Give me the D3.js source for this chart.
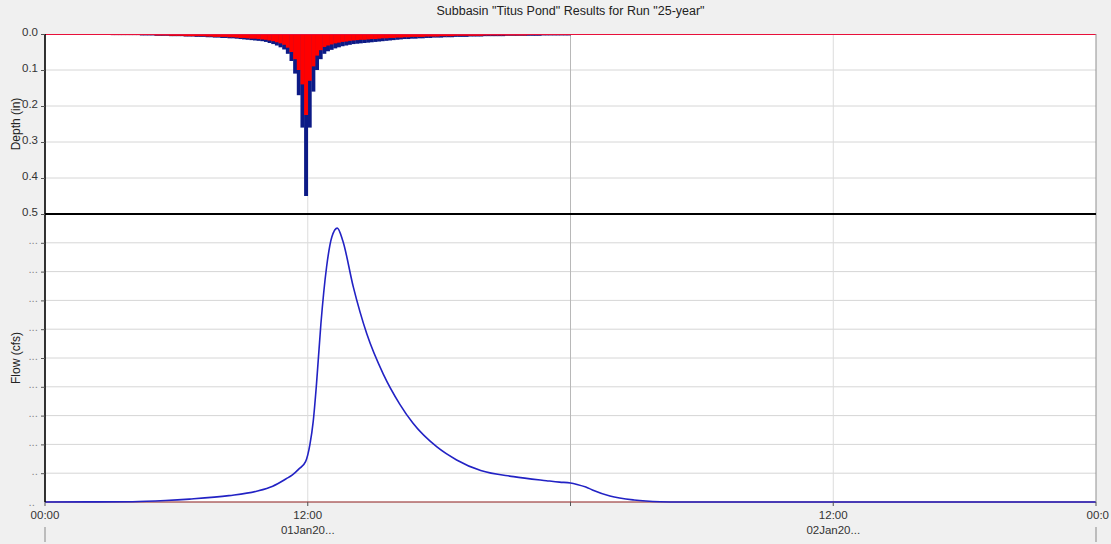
<!DOCTYPE html>
<html>
<head>
<meta charset="utf-8">
<script src="https://cdn.jsdelivr.net/npm/d3@7/dist/d3.min.js"></script>
<style>
  body { margin: 0; background: #f0f0f0; }
  text { font-family: "Liberation Sans", Arial, sans-serif; }
</style>
</head>
<body>
<div class="canvas"></div>
<script>
// ---- data ----
const title = 'Subbasin "Titus Pond" Results for Run "25-year"';

// precipitation per 10 minute step (in), 00:00 - 24:00 on 01Jan
const precipDepth = [
  0.002,0.002,0.002,0.002,0.002,0.002,0.002,0.002,0.002,0.002,0.002,0.002,
  0.002,0.002,0.002,0.002,0.002,0.002,0.003,0.003,0.003,0.003,0.003,0.003,
  0.003,0.003,0.004,0.004,0.004,0.004,0.005,0.005,0.005,0.005,0.006,0.006,
  0.006,0.006,0.007,0.007,0.007,0.008,0.008,0.008,0.009,0.009,0.010,0.010,
  0.011,0.011,0.012,0.012,0.013,0.014,0.015,0.016,0.017,0.018,0.019,0.020,
  0.022,0.025,0.028,0.032,0.037,0.043,0.055,0.075,0.110,0.170,0.260,0.450,
  0.260,0.160,0.100,0.070,0.055,0.048,0.044,0.040,0.037,0.034,0.032,0.030,
  0.028,0.027,0.026,0.025,0.024,0.023,0.022,0.021,0.020,0.019,0.018,0.017,
  0.016,0.015,0.014,0.014,0.013,0.013,0.012,0.012,0.011,0.011,0.010,0.010,
  0.010,0.009,0.009,0.009,0.008,0.008,0.008,0.008,0.007,0.007,0.007,0.007,
  0.006,0.006,0.006,0.006,0.006,0.006,0.005,0.005,0.005,0.005,0.005,0.005,
  0.005,0.005,0.005,0.005,0.004,0.004,0.004,0.004,0.004,0.004,0.004,0.004
];
// loss per 10 minute step (in)
const lossDepth = [
  0.002,0.002,0.002,0.002,0.002,0.002,0.002,0.002,0.002,0.002,0.002,0.002,
  0.002,0.002,0.002,0.002,0.002,0.002,0.003,0.003,0.003,0.003,0.003,0.003,
  0.003,0.003,0.003,0.003,0.003,0.003,0.004,0.004,0.004,0.004,0.005,0.005,
  0.005,0.005,0.006,0.006,0.006,0.006,0.006,0.006,0.007,0.007,0.008,0.008,
  0.008,0.008,0.009,0.009,0.010,0.011,0.011,0.012,0.013,0.013,0.014,0.015,
  0.016,0.018,0.020,0.023,0.026,0.030,0.038,0.050,0.070,0.100,0.140,0.225,
  0.130,0.090,0.060,0.045,0.036,0.032,0.029,0.026,0.024,0.022,0.021,0.019,
  0.018,0.017,0.016,0.016,0.015,0.014,0.014,0.013,0.012,0.012,0.011,0.011,
  0.010,0.010,0.009,0.009,0.008,0.008,0.008,0.008,0.007,0.007,0.007,0.007,
  0.006,0.006,0.006,0.006,0.005,0.005,0.005,0.005,0.005,0.005,0.005,0.005,
  0.004,0.004,0.004,0.004,0.004,0.004,0.004,0.004,0.004,0.004,0.004,0.004,
  0.003,0.003,0.003,0.003,0.003,0.003,0.003,0.003,0.003,0.003,0.003,0.003
];
const stepHours = 10 / 60;

// outflow hydrograph (hours from start, flow)
const flowHours = [0, 2, 4, 5.5, 6.6, 8.4, 9.7, 10.4, 11.0, 11.3, 11.6, 11.9, 12.1, 12.25, 12.4, 12.6,
  12.86, 13.1, 13.35, 13.6, 14.08, 14.7, 15.45, 16.2, 16.8, 17.9, 18.8, 19.9, 21.4, 22.9, 23.5,
  24.0, 24.3, 24.7, 25.0, 25.8, 26.9, 28.1, 29, 48];
const flowValues = [0, 0.003, 0.01, 0.05, 0.1, 0.22, 0.38, 0.55, 0.8, 0.94, 1.15, 1.4, 2.0, 2.8, 4.1, 6.18,
  8.16, 9.2, 9.51, 9.07, 7.47, 5.83, 4.44, 3.4, 2.74, 1.91, 1.46, 1.09, 0.88, 0.74, 0.69,
  0.66, 0.61, 0.52, 0.42, 0.21, 0.07, 0.01, 0, 0];

const depthTicks = [0, 0.1, 0.2, 0.3, 0.4, 0.5];
const flowTicks = [0, 1, 2, 3, 4, 5, 6, 7, 8, 9];
const flowTickLabels = ['..', '..', '...', '...', '...', '...', '...', '...', '...', '...'];
const timeTicks = [0, 12, 24, 36, 48];
const timeTickLabels = ['00:00', '12:00', '', '12:00', '00:0'];
const dateLabels = [{ h: 12, text: '01Jan20...' }, { h: 36, text: '02Jan20...' }];
const dayMarks = [0, 48];

// ---- layout ----
const W = 1111, H = 544;
const plot = { left: 45, right: 1096, top: 34, mid: 214, bottom: 502 };
const fontSize = 11.5;

const svg = d3.select('.canvas')
  .append('svg')
  .attr('width', W)
  .attr('height', H);

svg.append('rect').attr('width', W).attr('height', H).attr('fill', '#f0f0f0');
svg.append('rect')
  .attr('x', plot.left).attr('y', plot.top)
  .attr('width', plot.right - plot.left).attr('height', plot.bottom - plot.top)
  .attr('fill', '#fff');

// scales
const x = d3.scaleLinear().domain([0, 48]).range([plot.left, plot.right]);
const yDepth = d3.scaleLinear().domain([0, 0.5]).range([plot.top, plot.mid]);
const yFlow = d3.scaleLinear().domain([0, 10]).range([plot.bottom, plot.mid]);

// grid lines
const grid = svg.append('g');
grid.selectAll('.hd').data(depthTicks.slice(1, -1)).enter().append('line')
  .attr('x1', plot.left).attr('x2', plot.right)
  .attr('y1', d => yDepth(d)).attr('y2', d => yDepth(d))
  .attr('stroke', '#d6d6d6');
grid.selectAll('.hf').data(flowTicks.slice(1)).enter().append('line')
  .attr('x1', plot.left).attr('x2', plot.right)
  .attr('y1', d => yFlow(d)).attr('y2', d => yFlow(d))
  .attr('stroke', '#d6d6d6');
grid.selectAll('.v').data([12, 24, 36]).enter().append('line')
  .attr('x1', d => x(d)).attr('x2', d => x(d))
  .attr('y1', plot.top).attr('y2', plot.bottom + 4)
  .attr('stroke', d => d === 24 ? '#b8b8b8' : '#dcdcdc');

// precip bars hanging from the top, loss drawn over them
const barW = x(stepHours) - x(0);
const bars = svg.append('g');
bars.selectAll('.p').data(precipDepth).enter().append('rect')
  .attr('x', (d, i) => x(i * stepHours))
  .attr('y', plot.top)
  .attr('width', barW + 0.3)
  .attr('height', d => yDepth(d) - plot.top)
  .attr('fill', '#0c1a86');
bars.selectAll('.l').data(lossDepth).enter().append('rect')
  .attr('x', (d, i) => x(i * stepHours))
  .attr('y', plot.top)
  .attr('width', barW + 0.3)
  .attr('height', d => yDepth(d) - plot.top)
  .attr('fill', '#ff0000');

// zero line for loss along the top
svg.append('line')
  .attr('x1', plot.left).attr('x2', plot.right)
  .attr('y1', plot.top + 0.5).attr('y2', plot.top + 0.5)
  .attr('stroke', '#e8103a').attr('stroke-width', 1);

// baseflow line at zero then the outflow
svg.append('line')
  .attr('x1', plot.left).attr('x2', plot.right)
  .attr('y1', yFlow(0)).attr('y2', yFlow(0))
  .attr('stroke', '#8b1a1a').attr('stroke-width', 1);

const flowData = flowHours.map((h, i) => ({ h, v: flowValues[i] }));
const flowLine = d3.line()
  .x(d => x(d.h))
  .y(d => yFlow(d.v))
  .curve(d3.curveMonotoneX);
svg.append('path')
  .datum(flowData)
  .attr('d', flowLine)
  .attr('fill', 'none')
  .attr('stroke', '#2222c4')
  .attr('stroke-width', 1.6);

// frame
svg.append('line')
  .attr('x1', plot.right).attr('x2', plot.right)
  .attr('y1', plot.top).attr('y2', plot.bottom)
  .attr('stroke', '#909090');
svg.append('line')
  .attr('x1', plot.left).attr('x2', plot.right)
  .attr('y1', plot.mid).attr('y2', plot.mid)
  .attr('stroke', '#000').attr('stroke-width', 2);
svg.append('line')
  .attr('x1', plot.left).attr('x2', plot.left)
  .attr('y1', plot.top).attr('y2', plot.bottom)
  .attr('stroke', '#000').attr('stroke-width', 1.6);

// left axes
const depthAxis = d3.axisLeft(yDepth).tickValues(depthTicks).tickFormat(d3.format('.1f')).tickSize(4);
const flowAxis = d3.axisLeft(yFlow).tickValues(flowTicks).tickFormat((d, i) => flowTickLabels[i]).tickSize(4);

const gDepth = svg.append('g').attr('transform', `translate(${plot.left},0)`).call(depthAxis);
const gFlow = svg.append('g').attr('transform', `translate(${plot.left},0)`).call(flowAxis);
[gDepth, gFlow].forEach(g => {
  g.select('.domain').remove();
  g.selectAll('line').attr('stroke', '#555');
  g.selectAll('text').attr('font-size', fontSize).attr('fill', '#333')
    .style('font-family', '"Liberation Sans", Arial, sans-serif');
});
gDepth.selectAll('text').attr('dy', '0.15em');
gFlow.selectAll('text').attr('fill', '#888').attr('dy', '0.1em');
gFlow.selectAll('.tick').filter(d => d === 0).remove();
svg.append('text')
  .attr('x', plot.left - 10).attr('y', yFlow(0) + 4)
  .attr('text-anchor', 'end').attr('font-size', fontSize).attr('fill', '#888')
  .text('..');

// axis titles
svg.append('text')
  .attr('transform', `translate(20,${(plot.top + plot.mid) / 2}) rotate(-90)`)
  .attr('text-anchor', 'middle').attr('font-size', 12).attr('fill', '#222')
  .text('Depth (in)');
svg.append('text')
  .attr('transform', `translate(20,${(plot.mid + plot.bottom) / 2}) rotate(-90)`)
  .attr('text-anchor', 'middle').attr('font-size', 12).attr('fill', '#222')
  .text('Flow (cfs)');

// time axis
const tAxis = svg.append('g');
tAxis.selectAll('.tk').data(timeTicks).enter().append('line')
  .attr('x1', d => x(d)).attr('x2', d => x(d))
  .attr('y1', plot.bottom).attr('y2', plot.bottom + 4)
  .attr('stroke', '#555');
tAxis.selectAll('.tl').data(timeTicks).enter().append('text')
  .attr('x', (d, i) => i === timeTicks.length - 1 ? x(d) + 13 : x(d))
  .attr('y', plot.bottom + 17)
  .attr('text-anchor', (d, i) => i === timeTicks.length - 1 ? 'end' : 'middle')
  .attr('font-size', fontSize).attr('fill', '#333')
  .text((d, i) => timeTickLabels[i]);
tAxis.selectAll('.dl').data(dateLabels).enter().append('text')
  .attr('x', d => x(d.h)).attr('y', plot.bottom + 32)
  .attr('text-anchor', 'middle').attr('font-size', fontSize).attr('fill', '#333')
  .text(d => d.text);
tAxis.selectAll('.dm').data(dayMarks).enter().append('line')
  .attr('x1', d => x(d)).attr('x2', d => x(d))
  .attr('y1', plot.bottom + 25).attr('y2', H - 2)
  .attr('stroke', '#888');

// title
svg.append('text')
  .attr('x', (plot.left + plot.right) / 2).attr('y', 15)
  .attr('text-anchor', 'middle').attr('font-size', 12.5).attr('fill', '#222')
  .text(title);
</script>
</body>
</html>
